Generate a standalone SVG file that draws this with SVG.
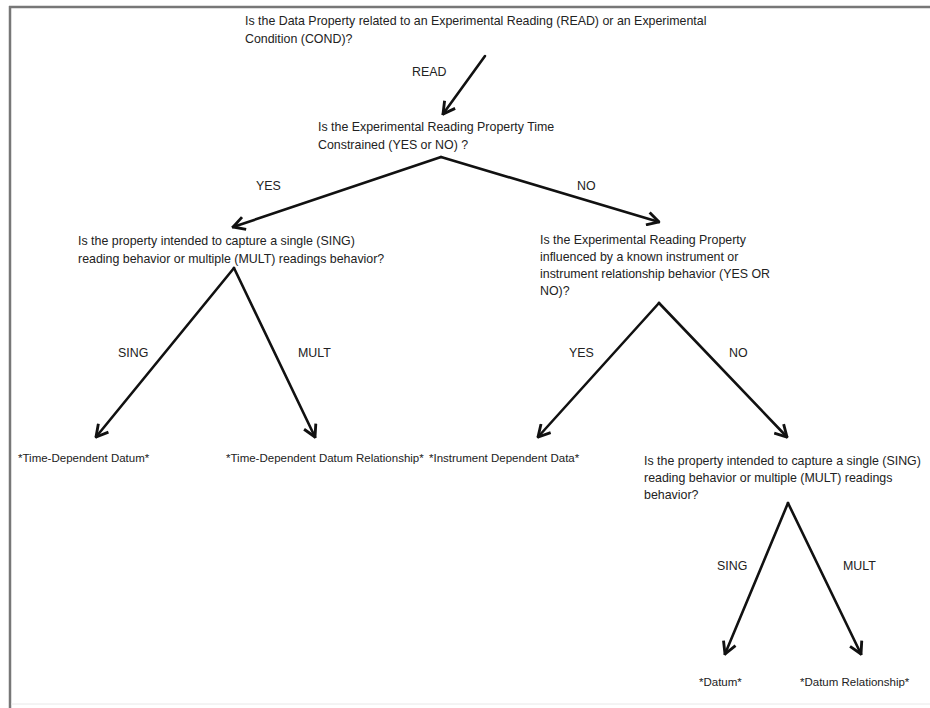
<svg xmlns="http://www.w3.org/2000/svg" width="930" height="708" viewBox="0 0 930 708">
<style>
text{font-family:"Liberation Sans",Arial,sans-serif;font-size:12.4px;fill:#222}
.r{font-size:11.5px}
.c{stroke:#111;stroke-width:2.6;fill:none;stroke-linecap:round}
</style>
<defs>
<marker id="ah" viewBox="0 0 12 12" refX="11" refY="6" markerWidth="6" markerHeight="6" orient="auto" markerUnits="strokeWidth">
<polyline points="2,1 11,6 2,11" fill="none" stroke="#111" stroke-width="2.2" stroke-linejoin="miter"/>
</marker>
</defs>
<rect width="930" height="708" fill="#fff"/>
<g id="frame">
<line x1="9" y1="7" x2="930" y2="7" stroke="#777" stroke-width="2.5"/>
<line x1="10" y1="6" x2="10" y2="708" stroke="#777" stroke-width="2.5"/>
<line x1="11" y1="704" x2="930" y2="704" stroke="#e8e8e8" stroke-width="1"/>
</g>
<g id="connectors">
<line class="c" x1="485" y1="56" x2="443" y2="114" marker-end="url(#ah)"/>
<line class="c" x1="441" y1="157" x2="233" y2="227" marker-end="url(#ah)"/>
<line class="c" x1="441" y1="157" x2="659" y2="222" marker-end="url(#ah)"/>
<line class="c" x1="234" y1="268" x2="96" y2="437" marker-end="url(#ah)"/>
<line class="c" x1="234" y1="268" x2="315" y2="437" marker-end="url(#ah)"/>
<line class="c" x1="659" y1="303" x2="538" y2="437" marker-end="url(#ah)"/>
<line class="c" x1="659" y1="303" x2="787" y2="437" marker-end="url(#ah)"/>
<line class="c" x1="788" y1="503" x2="725" y2="654" marker-end="url(#ah)"/>
<line class="c" x1="788" y1="503" x2="861" y2="654" marker-end="url(#ah)"/>
<text x="412" y="76">READ</text>
<text x="256" y="190">YES</text>
<text x="577" y="190">NO</text>
<text x="118" y="357">SING</text>
<text x="298" y="357">MULT</text>
<text x="569" y="357">YES</text>
<text x="729" y="357">NO</text>
<text x="717" y="570">SING</text>
<text x="843" y="570">MULT</text>
</g>
<g id="q1">
<text x="245" y="25">Is the Data Property related to an Experimental Reading (READ) or an Experimental</text>
<text x="245" y="43">Condition (COND)?</text>
</g>
<g id="q2">
<text x="318" y="131">Is the Experimental Reading Property Time</text>
<text x="318" y="149">Constrained (YES or NO) ?</text>
</g>
<g id="q3">
<text x="78" y="245">Is the property intended to capture a single (SING)</text>
<text x="78" y="263">reading behavior or multiple (MULT) readings behavior?</text>
</g>
<g id="q4">
<text x="540" y="244">Is the Experimental Reading Property</text>
<text x="540" y="261">influenced by a known instrument or</text>
<text x="540" y="278">instrument relationship behavior (YES OR</text>
<text x="540" y="295">NO)?</text>
</g>
<g id="r1"><text class="r" x="18" y="462">*Time-Dependent Datum*</text></g>
<g id="r2"><text class="r" x="226" y="462">*Time-Dependent Datum Relationship*</text></g>
<g id="r3"><text class="r" x="429" y="462">*Instrument Dependent Data*</text></g>
<g id="q5">
<text x="644" y="465">Is the property intended to capture a single (SING)</text>
<text x="644" y="482">reading behavior or multiple (MULT) readings</text>
<text x="644" y="499">behavior?</text>
</g>
<g id="r4"><text class="r" x="699" y="686">*Datum*</text></g>
<g id="r5"><text class="r" x="800" y="686">*Datum Relationship*</text></g>
</svg>
